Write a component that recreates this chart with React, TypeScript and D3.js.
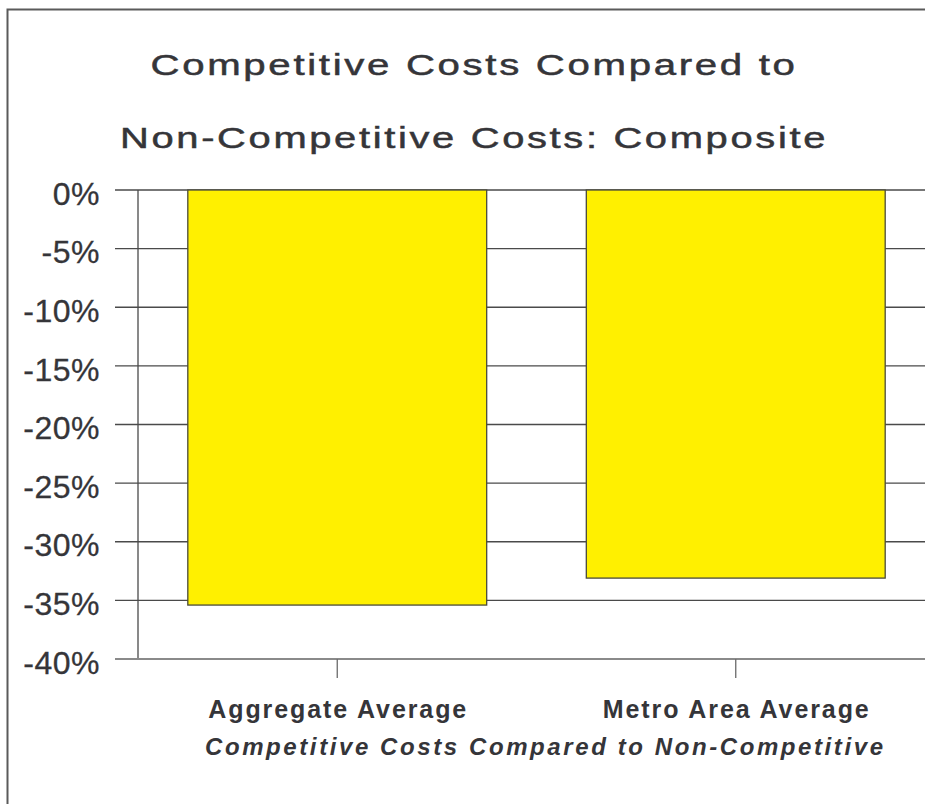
import React, { useEffect, useRef } from 'react';
import * as d3 from 'd3';

const categories = ['Aggregate Average', 'Metro Area Average'];
const values = [-35.4, -33.1];
const yTicks = [0, -5, -10, -15, -20, -25, -30, -35, -40];
const titleLines = ['Competitive Costs Compared to', 'Non-Competitive Costs: Composite'];
const axisTitle = 'Competitive Costs Compared to Non-Competitive';

const W = 925;
const H = 804;
const FONT = 'Arial, "Liberation Sans", Helvetica, sans-serif';
const TEXT = '#353539';

const App: React.FC = () => {
  const svgRef = useRef<SVGSVGElement>(null);

  useEffect(() => {
    if (!svgRef.current) return;
    const svg = d3.select(svgRef.current);
    svg.selectAll('*').remove();

    const x = d3.scaleBand<string>()
      .domain(categories)
      .range([138, 935])
      .paddingInner(0.25)
      .paddingOuter(0.125);
    const y = d3.scaleLinear().domain([-40, 0]).range([659, 190]);

    svg.append('rect').attr('width', W).attr('height', H).attr('fill', '#fff');

    // outer frame, only top and left edges show in the crop
    svg.append('path')
      .attr('d', `M7.5,${H} L7.5,9.5 L${W + 5},9.5`)
      .attr('fill', 'none')
      .attr('stroke', '#5a5a5a')
      .attr('stroke-width', 2);

    // title (wide, stretched glyphs)
    const titleWidths = [647, 708];
    const titleBase = [75, 148];
    titleLines.forEach((t, i) => {
      svg.append('text')
        .attr('x', 474)
        .attr('y', titleBase[i])
        .attr('text-anchor', 'middle')
        .attr('textLength', titleWidths[i])
        .attr('lengthAdjust', 'spacingAndGlyphs')
        .attr('fill', TEXT)
        .attr('stroke', TEXT)
        .attr('stroke-width', 0.5)
        .style('font-family', FONT)
        .style('font-size', '30px')
        .style('letter-spacing', '2px')
        .text(t);
    });

    // gridlines
    yTicks.forEach((v) => {
      if (v === -40) return;
      svg.append('line')
        .attr('x1', 115).attr('x2', W)
        .attr('y1', y(v)).attr('y2', y(v))
        .attr('stroke', '#4a4a4a')
        .attr('stroke-width', 1.3);
    });

    // bars
    svg.selectAll('rect.bar')
      .data(categories)
      .join('rect')
      .attr('class', 'bar')
      .attr('x', (d) => x(d)!)
      .attr('width', x.bandwidth())
      .attr('y', y(0))
      .attr('height', (_d, i) => y(values[i]) - y(0))
      .attr('fill', '#FFF000')
      .attr('stroke', '#4a4a3a')
      .attr('stroke-width', 1.3);

    // y axis line
    svg.append('line')
      .attr('x1', 138).attr('x2', 138)
      .attr('y1', y(0)).attr('y2', y(-40))
      .attr('stroke', '#4a4a4a')
      .attr('stroke-width', 1.3);

    // x axis line
    svg.append('line')
      .attr('x1', 115).attr('x2', W)
      .attr('y1', y(-40)).attr('y2', y(-40))
      .attr('stroke', '#8a8a8a')
      .attr('stroke-width', 2);

    // x ticks at category centres
    categories.forEach((c) => {
      const cx = x(c)! + x.bandwidth() / 2;
      svg.append('line')
        .attr('x1', cx).attr('x2', cx)
        .attr('y1', y(-40)).attr('y2', y(-40) + 19)
        .attr('stroke', '#6a6a6a')
        .attr('stroke-width', 1.3);
    });

    // y labels
    yTicks.forEach((v) => {
      svg.append('text')
        .attr('x', 100)
        .attr('y', y(v))
        .attr('dy', '0.46em')
        .attr('text-anchor', 'end')
        .attr('fill', TEXT)
        .attr('stroke', TEXT)
        .attr('stroke-width', 0.3)
        .style('font-family', FONT)
        .style('font-size', '32px')
        .style('letter-spacing', '0.5px')
        .text(`${v}%`);
    });

    // category labels
    const catWidths = [258, 266];
    categories.forEach((c, i) => {
      svg.append('text')
        .attr('x', x(c)! + x.bandwidth() / 2)
        .attr('y', 718)
        .attr('text-anchor', 'middle')
        .attr('textLength', catWidths[i])
        .attr('lengthAdjust', 'spacing')
        .attr('fill', TEXT)
        .style('font-family', FONT)
        .style('font-size', '25px')
        .style('font-weight', 'bold')
        .text(c);
    });

    // axis title
    svg.append('text')
      .attr('x', 544)
      .attr('y', 755)
      .attr('text-anchor', 'middle')
      .attr('textLength', 678)
      .attr('lengthAdjust', 'spacing')
      .attr('fill', TEXT)
      .style('font-family', FONT)
      .style('font-size', '24px')
      .style('font-weight', 'bold')
      .style('font-style', 'italic')
      .text(axisTitle);
  }, []);

  return (
    <div style={{ position: 'absolute', left: 0, top: 0 }}>
      <svg ref={svgRef} width={W} height={H} style={{ display: 'block' }} />
    </div>
  );
};

export default App;
